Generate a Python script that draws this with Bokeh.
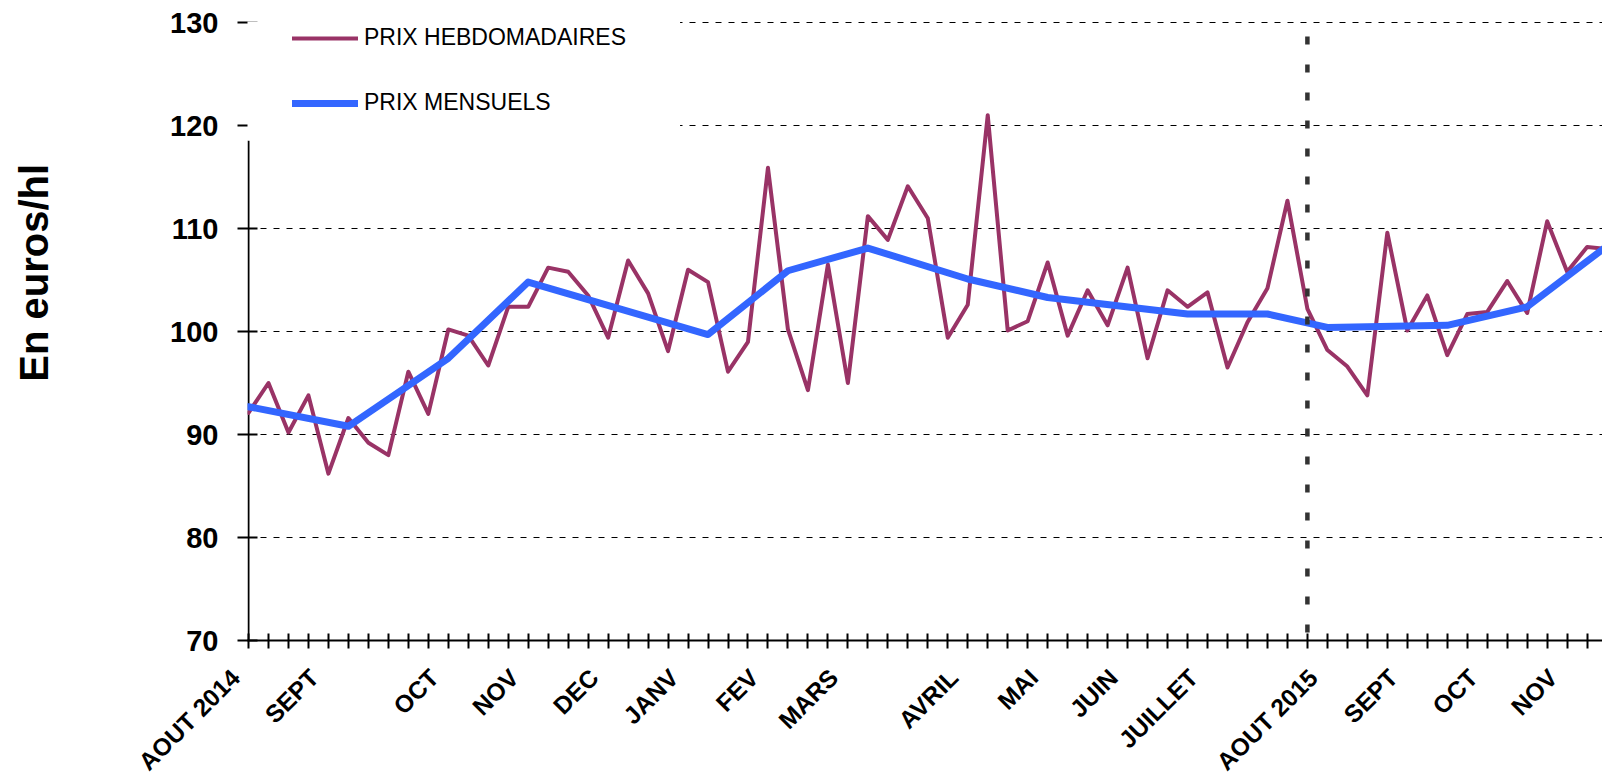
import math
from bokeh.plotting import figure
from bokeh.layouts import row, column
from bokeh.models import (Range1d, FixedTicker, Legend, LegendItem, BoxAnnotation)
from bokeh.core.properties import value
from bokeh.embed import file_html
from bokeh.resources import INLINE

# ---------------- data ----------------
weeks = list(range(69))
weekly_prices = [92.1, 95.0, 90.2, 93.8, 86.2, 91.6, 89.2, 88.0, 96.1, 92.0,
                 100.2, 99.6, 96.7, 102.4, 102.4, 106.2, 105.8, 103.5, 99.4, 106.9,
                 103.7, 98.1, 106.0, 104.8, 96.1, 99.0, 115.9, 100.2, 94.3, 106.5,
                 95.0, 111.2, 108.9, 114.1, 111.0, 99.4, 102.6, 121.0, 100.1, 101.0,
                 106.7, 99.6, 104.0, 100.6, 106.2, 97.4, 104.0, 102.4, 103.8, 96.5,
                 100.9, 104.2, 112.7, 102.2, 98.2, 96.6, 93.8, 109.6, 100.1, 103.5,
                 97.7, 101.7, 101.9, 104.9, 101.8, 110.7, 105.8, 108.2, 108.0]

month_weeks = [0, 5, 10, 14, 23, 27, 31, 36, 40, 47, 51, 54, 60, 64, 68]
monthly_prices = [92.7, 90.8, 97.4, 104.8, 99.7, 105.9, 108.1, 105.1, 103.3,
                  101.7, 101.7, 100.4, 100.6, 102.4, 108.3]

label_weeks = [0, 3, 9, 13, 17, 21, 25, 29, 35, 39, 43, 47, 53, 57, 61, 65]
label_names = ["AOUT 2014", "SEPT", "OCT", "NOV", "DEC", "JANV", "FEV", "MARS",
               "AVRIL", "MAI", "JUIN", "JUILLET", "AOUT 2015", "SEPT", "OCT", "NOV"]

y_ticks = [70, 80, 90, 100, 110, 120, 130]
marker_week = 53  # AOUT 2015
series_names = ["PRIX HEBDOMADAIRES", "PRIX MENSUELS"]
y_title = "En euros/hl"

# ---------------- style / layout constants ----------------
FONT = "Liberation Sans"
PURPLE = "#993366"
BLUE = "#3366FF"
TOTAL_W, TOTAL_H = 1602, 778
TITLE_W = 70               # strip holding the y title
TOP_H = 660                # height of the chart row
FRAME_LEFT = 247           # page x of the plot frame's left edge
FRAME_TOP = 21             # page y of the plot frame's top edge
FRAME_BOTTOM = 640         # page y of the plot frame's bottom edge
X_START, X_END = -0.05, 67.77
Y_TOP = 130.1
LABEL_SHIFT = 0.3          # month labels end slightly right of their week tick
FIRST_NUDGE = -0.95        # first label sits left of its tick in the original
LABEL_Y = 13               # label anchor, px below the top of the label strip
COVER_BOTTOM = 118.55      # bottom of the white legend backdrop (y units)
COVER_RIGHT = 21.6         # right edge of the white legend backdrop (x units)

frame_w = TOTAL_W - FRAME_LEFT
px_per_week = frame_w / (X_END - X_START)

# ---------------- y-title strip ----------------
tfig = figure(width=TITLE_W, height=TOP_H, x_range=Range1d(0, TITLE_W),
              y_range=Range1d(TOP_H, 0), output_backend="svg",
              toolbar_location=None, min_border=0)
tfig.outline_line_color = None
tfig.axis.visible = False
tfig.grid.visible = False
tfig.text(x=[33], y=[268], text=[y_title], angle=math.pi / 2,
          text_align="center", text_baseline="middle", text_font=value(FONT),
          text_font_style="bold", text_font_size="40px", text_color="black")

# ---------------- main chart ----------------
p = figure(width=TOTAL_W - TITLE_W, height=TOP_H,
           x_range=Range1d(X_START, X_END), y_range=Range1d(y_ticks[0], Y_TOP),
           output_backend="svg", toolbar_location=None,
           min_border_left=FRAME_LEFT - TITLE_W, min_border_right=0,
           min_border_top=FRAME_TOP, min_border_bottom=TOP_H - FRAME_BOTTOM)
p.outline_line_color = None
p.background_fill_color = "white"
p.border_fill_color = "white"

# x axis: weekly ticks only (month labels are drawn in the strip below)
xa = p.xaxis[0]
xa.ticker = FixedTicker(ticks=[], minor_ticks=list(range(68)))
xa.major_label_standoff = 0
xa.major_tick_in = 7
xa.major_tick_out = 8
xa.minor_tick_in = 7
xa.minor_tick_out = 8
xa.minor_tick_line_width = 2
xa.minor_tick_line_color = "black"
xa.axis_line_width = 2
xa.axis_line_color = "black"

# y axis
ya = p.yaxis[0]
ya.ticker = FixedTicker(ticks=y_ticks)
ya.major_label_text_font = FONT
ya.major_label_text_font_style = "bold"
ya.major_label_text_font_size = "29px"
ya.major_label_text_color = "black"
ya.major_label_standoff = 19
ya.major_tick_in = 10
ya.major_tick_out = 10
ya.major_tick_line_width = 2
ya.major_tick_line_color = "black"
ya.minor_tick_line_color = None
ya.axis_line_color = None

# grid
p.xgrid.grid_line_color = None
p.ygrid.ticker = FixedTicker(ticks=y_ticks[1:])
p.ygrid.grid_line_color = "black"
p.ygrid.grid_line_dash = "6 7"
p.ygrid.grid_line_width = 1

# visible part of the y axis line (its top is hidden behind the legend)
p.segment(x0=[0], y0=[y_ticks[0]], x1=[0], y1=[COVER_BOTTOM],
          line_color="black", line_width=2)

# series
r_week = p.line(weeks, weekly_prices, line_color=PURPLE, line_width=4,
                line_join="round", line_cap="round")
r_month = p.line(month_weeks, monthly_prices, line_color=BLUE, line_width=7,
                 line_join="round", line_cap="round")

# vertical marker at AOUT 2015
p.segment(x0=[marker_week], y0=[y_ticks[-1]], x1=[marker_week], y1=[y_ticks[0]],
          line_color="#333333", line_width=4.5, line_dash="8 20",
          line_dash_offset=14)

# white legend backdrop
cover = BoxAnnotation(left=-1, right=COVER_RIGHT, bottom=COVER_BOTTOM, top=140,
                      fill_color="white", fill_alpha=1.0, line_color=None)
p.add_layout(cover)

legend = Legend(items=[LegendItem(label=series_names[0], renderers=[r_week]),
                       LegendItem(label=series_names[1], renderers=[r_month])],
                location=(45, 524), padding=0, margin=0, spacing=38,
                glyph_width=66, glyph_height=26, label_height=26,
                label_standoff=6, label_text_font=FONT,
                label_text_font_size="23px", label_text_color="black",
                background_fill_alpha=0, border_line_color=None)
p.add_layout(legend)

# ---------------- month labels strip ----------------
lab_h = TOTAL_H - TOP_H
l_start = X_START - FRAME_LEFT / px_per_week
lfig = figure(width=TOTAL_W, height=lab_h,
              x_range=Range1d(l_start, X_END), y_range=Range1d(lab_h, 0),
              output_backend="svg", toolbar_location=None, min_border=0)
lfig.outline_line_color = None
lfig.axis.visible = False
lfig.grid.visible = False
label_x = [w + LABEL_SHIFT for w in label_weeks]
label_x[0] += FIRST_NUDGE
lfig.text(x=label_x, y=[LABEL_Y] * len(label_x), text=label_names,
          angle=math.pi / 4, text_align="right", text_baseline="middle",
          text_font=value(FONT), text_font_style="bold", text_font_size="24.5px",
          text_color="black")

layout = column(row(tfig, p), lfig)
open("out.html", "w").write(file_html(layout, INLINE))
